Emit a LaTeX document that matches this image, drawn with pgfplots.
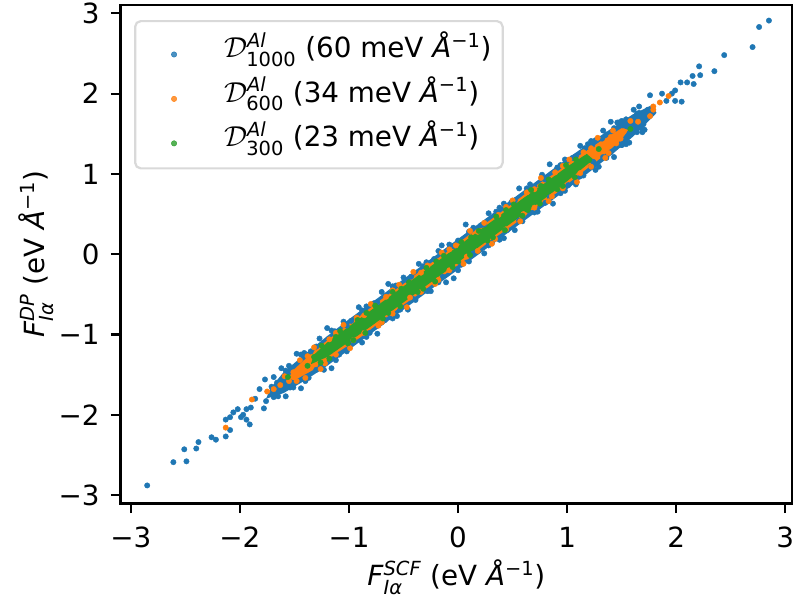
\documentclass[border=0pt]{standalone}
\usepackage{fontspec}
\setmainfont{DejaVu Sans}
\usepackage{amsmath}
\usepackage{pgfplots}
\pgfplotsset{compat=1.18}

\definecolor{tabblue}{HTML}{1F77B4}
\definecolor{taborange}{HTML}{FF7F0E}
\definecolor{tabgreen}{HTML}{2CA02C}

\newcommand{\AAinv}{\textit{Å}$^{\text{−1}}$}

\pgfplotsset{
  dots/.style={only marks, mark=*, mark size=1.95pt, line width=0.3pt,
               color=#1, mark options={fill=#1}},
  core/.style={fill=#1, draw=none, no markers, forget plot},
}

\begin{document}
\begin{tikzpicture}[font=\fontsize{20}{24}\selectfont]
\begin{axis}[
    scale only axis,
    width=483.3pt, height=358.8pt,
    xmin=-3.094, xmax=3.061,
    ymin=-3.104, ymax=3.104,
    xtick={-3,-2,-1,0,1,2,3},
    ytick={-3,-2,-1,0,1,2,3},
    xticklabels={−3,−2,−1,0,1,2,3},
    yticklabels={−3,−2,−1,0,1,2,3},
    tick align=outside,
    major tick length=7pt,
    every tick/.style={black, line width=1.6pt},
    axis line style={line width=1.6pt},
    xtick pos=bottom, ytick pos=left,
    xticklabel style={inner sep=0pt},
    yticklabel style={inner sep=0pt},
    xticklabel shift=9.8pt,
    yticklabel shift=8pt,
    xlabel={\textit{F}$^{\text{\itshape SCF}}_{\text{\itshape Iα}}$ (eV \AAinv)},
    ylabel={\textit{F}$^{\text{\itshape DP}}_{\text{\itshape Iα}}$ (eV \AAinv)},
    xlabel style={at={(axis description cs:0.5,-0.165)}, anchor=base},
    ylabel style={at={(axis description cs:-0.1126,0.5)}, anchor=base},
    legend cell align=left,
    legend image code/.code={\path[draw=none, fill=none] (0pt,-4pt) rectangle (56pt,4pt);
        \draw[#1] plot coordinates {(24pt,-3pt)};},
    legend style={at={(0,1)}, anchor=north west, xshift=9.7pt, yshift=-10.8pt,
        draw=black!15, line width=1.6pt, rounded corners=4pt,
        fill=white, fill opacity=0.8, text opacity=1,
        inner xsep=4pt, inner ysep=5pt, row sep=0pt, column sep=0pt,
        nodes={inner xsep=4pt, inner ysep=2.5pt, text height=19pt, text depth=8pt}},
]

% ---- D1000 : dense core, then individual points
\addplot[core=tabblue] coordinates {
(-1.72,-1.67) (-1.60,-1.47) (-1.40,-1.24) (-1.20,-1.02) (-1.00,-0.81)
(-0.80,-0.61) (-0.60,-0.41) (-0.40,-0.21) (-0.20,-0.01) (0.00,0.19)
(0.20,0.39) (0.40,0.59) (0.60,0.79) (0.80,0.99) (1.00,1.19) (1.20,1.38)
(1.40,1.56) (1.60,1.74) (1.78,1.86) (1.82,1.76)
(1.60,1.46) (1.40,1.23) (1.20,1.02) (1.00,0.81) (0.80,0.61) (0.60,0.41)
(0.40,0.21) (0.20,0.01) (0.00,-0.19) (-0.20,-0.39) (-0.40,-0.59)
(-0.60,-0.79) (-0.80,-0.99) (-1.00,-1.19) (-1.20,-1.39) (-1.40,-1.57)
(-1.60,-1.73) (-1.76,-1.80)
};
\addplot[dots=tabblue] coordinates {
(-2.85,-2.88) (-2.61,-2.59) (-2.49,-2.58) (-2.51,-2.43) (-2.40,-2.42)
(-2.38,-2.34) (-2.26,-2.28) (-2.22,-2.31) (-2.13,-2.27) (-2.09,-2.19)
(-2.13,-2.06) (-2.09,-2.03) (-2.06,-1.97) (-2.02,-1.93) (-1.99,-2.03)
(-1.91,-2.12) (-1.94,-2.06) (-1.94,-1.93) (-1.90,-1.91) (-1.97,-2.00)
(-1.82,-1.68) (-1.78,-1.92) (-1.76,-1.83) (-1.77,-1.56) (-1.69,-1.53)
(-1.71,-1.65) (-1.69,-1.78) (-1.86,-1.80)
(-1.62,-1.66) (-1.58,-1.52) (-1.66,-1.60)
(-1.62,-1.42) (-1.55,-1.39) (-1.48,-1.24) (-1.41,-1.23) (-1.35,-1.21)
(-1.27,-1.05) (-1.20,-0.92) (-1.13,-0.96) (-1.05,-0.84) (-0.98,-0.83)
(-0.91,-0.66) (-0.84,-0.65) (-0.77,-0.61) (-0.70,-0.47) (-0.64,-0.37)
(-0.57,-0.39) (-0.50,-0.29) (-0.43,-0.28) (-0.36,-0.12) (-0.29,-0.10)
(-0.22,-0.06) (-0.15,0.11) (-0.08,0.12) (0.00,0.17) (0.07,0.37)
(0.14,0.33) (0.21,0.36) (0.28,0.51) (0.35,0.53) (0.42,0.63)
(0.49,0.65) (0.56,0.82) (0.63,0.82) (0.70,0.84) (0.77,0.99)
(0.84,1.12) (0.91,1.08) (0.98,1.18) (1.05,1.20) (1.12,1.35)
(1.19,1.37) (1.26,1.42) (1.33,1.54) (1.40,1.65) (1.47,1.64)
(1.54,1.68) (1.61,1.80)
(-1.65,-1.77) (-1.58,-1.77) (-1.51,-1.66) (-1.44,-1.67) (-1.37,-1.54)
(-1.30,-1.44) (-1.23,-1.44) (-1.16,-1.42) (-1.09,-1.25) (-1.02,-1.21)
(-0.95,-1.09) (-0.88,-1.10) (-0.81,-0.98) (-0.74,-0.99) (-0.67,-0.82)
(-0.60,-0.80) (-0.53,-0.69) (-0.46,-0.69) (-0.39,-0.57) (-0.32,-0.46)
(-0.25,-0.46) (-0.18,-0.35) (-0.11,-0.35) (-0.04,-0.30) (0.03,-0.13)
(0.10,-0.09) (0.17,0.03) (0.24,0.01) (0.31,0.14) (0.38,0.18)
(0.45,0.30) (0.52,0.30) (0.59,0.41) (0.66,0.52) (0.73,0.53)
(0.80,0.64) (0.87,0.63) (0.94,0.76) (1.01,0.86) (1.08,0.87)
(1.15,0.98) (1.22,1.09) (1.29,1.09) (1.36,1.20) (1.43,1.21)
(1.50,1.36) (1.57,1.39) (1.64,1.52) (1.71,1.55)
(-1.58,-1.45) (-1.44,-1.25) (-1.30,-1.15) (-1.16,-0.95) (-1.02,-0.89)
(-0.88,-0.70) (-0.74,-0.60) (-0.60,-0.40) (-0.46,-0.33) (-0.32,-0.15)
(-0.18,0.04) (-0.04,0.10) (0.10,0.28) (0.24,0.37) (0.38,0.58)
(0.52,0.67) (0.66,0.87) (0.80,0.93) (0.94,1.11) (1.08,1.22)
(1.22,1.41) (1.36,1.49) (1.50,1.66) (1.64,1.75)
(-1.54,-1.66) (-1.40,-1.58) (-1.26,-1.40) (-1.12,-1.32) (-0.98,-1.11)
(-0.84,-1.03) (-0.70,-0.85) (-0.56,-0.77) (-0.42,-0.55) (-0.28,-0.46)
(-0.14,-0.28) (0.00,-0.20) (0.14,0.01) (0.28,0.11) (0.42,0.20)
(0.56,0.42) (0.70,0.52) (0.84,0.71) (0.98,0.79) (1.12,0.97)
(1.26,1.05) (1.40,1.27) (1.54,1.37) (1.68,1.57)
(1.66,1.76) (1.70,1.62) (1.74,1.80) (1.62,1.58)
(2.85,2.91) (2.76,2.83) (2.70,2.58) (2.44,2.48) (2.35,2.28)
(2.21,2.34) (2.22,2.23) (2.15,2.22) (2.16,2.12) (2.10,2.14)
(2.04,2.14) (2.05,1.90) (1.99,2.04) (1.99,1.91) (1.96,2.00)
(1.87,2.00) (1.76,1.98) (1.91,1.91) (1.66,1.84) (1.72,1.73)
(1.69,1.52) (1.62,1.71) (1.46,1.64) (1.43,1.57) (1.50,1.36)
(1.32,1.44) (1.16,1.32) (1.23,1.36) (1.07,1.21) (1.24,1.15) (1.33,1.21)
};
\addlegendentry{$\mathcal{D}^{\text{\itshape Al}}_{\text{1000}}$ (60 meV \AAinv)}

% ---- D600
\addplot[core=taborange] coordinates {
(-1.50,-1.43) (-1.30,-1.18) (-1.10,-0.97) (-0.90,-0.77) (-0.70,-0.56)
(-0.50,-0.37) (-0.30,-0.16) (-0.10,0.03) (0.10,0.24) (0.30,0.43)
(0.50,0.63) (0.70,0.84) (0.90,1.02) (1.10,1.22) (1.30,1.40) (1.50,1.57)
(1.56,1.55)
(1.50,1.43) (1.30,1.19) (1.10,0.98) (0.90,0.76) (0.70,0.57) (0.50,0.36)
(0.30,0.17) (0.10,-0.04) (-0.10,-0.23) (-0.30,-0.44) (-0.50,-0.63)
(-0.70,-0.83) (-0.90,-1.04) (-1.10,-1.22) (-1.30,-1.42) (-1.50,-1.57)
(-1.56,-1.55)
};
\addplot[dots=taborange] coordinates {
(-2.13,-2.16) (-1.89,-1.81) (-1.75,-1.71) (-1.69,-1.68) (-1.63,-1.63)
(-1.59,-1.52) (-1.55,-1.58) (-1.51,-1.47) (-1.47,-1.50)
(-1.45,-1.32) (-1.32,-1.16) (-1.18,-1.06) (-1.05,-0.88) (-0.93,-0.79)
(-0.80,-0.62) (-0.66,-0.53) (-0.54,-0.38) (-0.41,-0.22) (-0.28,-0.14)
(-0.15,0.02) (-0.02,0.11) (0.11,0.29) (0.24,0.39) (0.37,0.49)
(0.50,0.67) (0.63,0.77) (0.76,0.95) (0.89,1.02) (1.02,1.18)
(1.15,1.27) (1.28,1.45)
(-1.40,-1.54) (-1.26,-1.43) (-1.12,-1.25) (-0.99,-1.17) (-0.86,-0.98)
(-0.73,-0.89) (-0.60,-0.74) (-0.47,-0.66) (-0.34,-0.47) (-0.21,-0.37)
(-0.08,-0.20) (0.05,-0.12) (0.18,0.04) (0.31,0.13) (0.44,0.31)
(0.57,0.41) (0.70,0.58) (0.83,0.66) (0.96,0.82) (1.09,0.90)
(1.22,1.09) (1.35,1.20)
(-1.38,-1.27) (-1.12,-0.98) (-0.86,-0.76) (-0.60,-0.45) (-0.34,-0.23)
(-0.08,0.06) (0.18,0.28) (0.44,0.59) (0.70,0.81) (0.96,1.10)
(1.22,1.32) (1.42,1.54)
(-1.48,-1.58) (-1.22,-1.36) (-0.96,-1.07) (-0.70,-0.85) (-0.44,-0.54)
(-0.18,-0.32) (0.08,-0.03) (0.34,0.19) (0.60,0.50) (0.86,0.72)
(1.12,1.01) (1.38,1.26)
(1.40,1.46) (1.49,1.44) (1.52,1.53) (1.58,1.66) (1.65,1.65)
(1.76,1.72) (1.79,1.80) (1.79,1.84) (1.85,1.89) (1.93,1.97) (1.45,1.38)
};
\addlegendentry{$\mathcal{D}^{\text{\itshape Al}}_{\text{600}}$ (34 meV \AAinv)}

% ---- D300
\addplot[core=tabgreen] coordinates {
(-1.32,-1.25) (-1.20,-1.10) (-1.00,-0.90) (-0.80,-0.70) (-0.60,-0.50)
(-0.40,-0.30) (-0.20,-0.10) (0.00,0.10) (0.20,0.30) (0.40,0.50)
(0.60,0.70) (0.80,0.89) (1.00,1.09) (1.18,1.25) (1.24,1.18)
(1.00,0.91) (0.80,0.70) (0.60,0.50) (0.40,0.30) (0.20,0.10)
(0.00,-0.10) (-0.20,-0.30) (-0.40,-0.50) (-0.60,-0.70) (-0.80,-0.90)
(-1.00,-1.09) (-1.20,-1.28) (-1.35,-1.37)
};
\addplot[dots=tabgreen] coordinates {
(-1.25,-1.14) (-1.08,-0.96) (-0.92,-0.82) (-0.76,-0.64) (-0.60,-0.47)
(-0.45,-0.35) (-0.29,-0.17) (-0.13,-0.02) (0.03,0.15) (0.19,0.29)
(0.35,0.47) (0.51,0.62) (0.67,0.80) (0.83,0.93) (0.99,1.11)
(-1.18,-1.30) (-1.01,-1.11) (-0.85,-0.98) (-0.69,-0.80) (-0.53,-0.65)
(-0.37,-0.47) (-0.21,-0.34) (-0.05,-0.16) (0.11,-0.01) (0.27,0.17)
(0.43,0.30) (0.59,0.48) (0.75,0.63) (0.91,0.81) (1.07,0.96)
(-1.12,-1.03) (-0.84,-0.73) (-0.52,-0.43) (-0.20,-0.09) (0.12,0.21)
(0.44,0.55) (0.76,0.85) (1.08,1.18)
(-1.26,-1.35) (-0.96,-1.07) (-0.64,-0.73) (-0.32,-0.43) (0.00,-0.09)
(0.32,0.21) (0.64,0.55) (0.96,0.85)
(-1.56,-1.53) (-1.38,-1.39) (-1.32,-1.28) (1.12,1.13) (1.20,1.17)
(1.29,1.31) (1.58,1.56)
};
\addlegendentry{$\mathcal{D}^{\text{\itshape Al}}_{\text{300}}$ (23 meV \AAinv)}

\end{axis}
\pgfresetboundingbox
\path[use as bounding box] (-86.8pt,-69.6pt) rectangle (489.1pt,362.4pt);
\end{tikzpicture}
\end{document}
